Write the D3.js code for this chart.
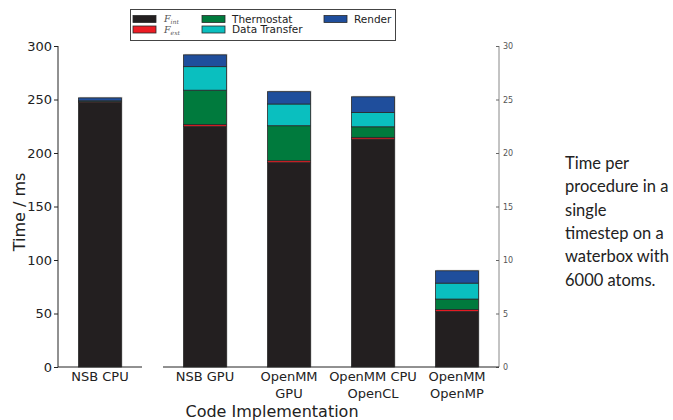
<!DOCTYPE html>
<html>
<head>
<meta charset="utf-8">
<script src="https://cdn.jsdelivr.net/npm/d3@7"></script>
<style>
  body { margin: 0; background: #fff; }
  svg { display: block; }
</style>
</head>
<body>
<div id="chart"></div>
<script>
// stack order, bottom to top
const keys = ["F_int", "F_ext", "Thermostat", "Data Transfer", "Render"];
const colors = ["#231f20", "#ed1c24", "#007a3d", "#0abfbf", "#1f4e9c"];

// left panel (left axis, 0-300)
const cpuNames = ["NSB CPU"];
const cpuFint = [247.5];
const cpuFext = [0.5];
const cpuThermo = [0.3];
const cpuData = [0.5];
const cpuRender = [2.7];

// right panel (right axis, 0-30)
const gpuNames = ["NSB GPU", "OpenMM\nGPU", "OpenMM CPU\nOpenCL", "OpenMM\nOpenMP"];
const gpuFint = [22.5, 19.1, 21.3, 5.2];
const gpuFext = [0.17, 0.18, 0.16, 0.18];
const gpuThermo = [3.2, 3.27, 0.99, 0.97];
const gpuData = [2.2, 2.03, 1.34, 1.49];
const gpuRender = [1.1, 1.15, 1.46, 1.15];

const leftTicks = [0, 50, 100, 150, 200, 250, 300];
const rightTicks = [0, 5, 10, 15, 20, 25, 30];
const note = ["Time per", "procedure in a", "single", "timestep on a", "waterbox with", "6000 atoms."];

const W = 673, H = 420;
const svg = d3.select("#chart").append("svg").attr("width", W).attr("height", H);

const yTop = 46, yBottom = 367;
const yL = d3.scaleLinear().domain([0, 300]).range([yBottom, yTop]);
const yR = d3.scaleLinear().domain([0, 30]).range([yBottom, yTop]);

const xL = d3.scaleBand().domain(cpuNames).range([58, 142]).paddingInner(0.488).paddingOuter(0.244);
const xR = d3.scaleBand().domain(gpuNames).range([163, 499]).paddingInner(0.488).paddingOuter(0.244);

function rows(names, fi, fe, th, da, re) {
    return names.map((n, i) => ({
        name: n, "F_int": fi[i], "F_ext": fe[i], "Thermostat": th[i],
        "Data Transfer": da[i], "Render": re[i]
    }));
}

function drawBars(g, data, x, y) {
    const series = d3.stack().keys(keys)(data);
    // faint shadow behind each bar
    g.selectAll(".shadow")
        .data(data)
        .enter().append("rect")
        .attr("x", d => x(d.name) + 1)
        .attr("y", d => y(d3.sum(keys, k => d[k])) - 1)
        .attr("width", x.bandwidth())
        .attr("height", d => yBottom - y(d3.sum(keys, k => d[k])) + 1)
        .attr("fill", "#c8c8c8");
    series.forEach((s, si) => {
        g.selectAll(".seg" + si)
            .data(s)
            .enter().append("rect")
            .attr("x", d => x(d.data.name))
            .attr("y", d => y(d[1]))
            .attr("width", x.bandwidth())
            .attr("height", d => Math.max(0, y(d[0]) - y(d[1])))
            .attr("fill", colors[si])
            .attr("stroke", "#2a2a2a")
            .attr("stroke-width", 0.8);
    });
}

const gBars = svg.append("g");
drawBars(gBars, rows(cpuNames, cpuFint, cpuFext, cpuThermo, cpuData, cpuRender), xL, yL);
drawBars(gBars, rows(gpuNames, gpuFint, gpuFext, gpuThermo, gpuData, gpuRender), xR, yR);

// left y axis
const axL = svg.append("g")
    .attr("transform", "translate(58,0)")
    .call(d3.axisLeft(yL).tickValues(leftTicks).tickSize(4).tickPadding(2));
axL.select(".domain").attr("stroke", "#222").attr("d", `M0,${yTop}V${yBottom}`);
axL.selectAll(".tick line").attr("stroke", "#222");
axL.selectAll("text").attr("font-family", "DejaVu Sans").attr("font-size", 13).attr("fill", "#222");

// right y axis
const axR = svg.append("g")
    .attr("transform", "translate(499,0)")
    .call(d3.axisRight(yR).tickValues(rightTicks).tickSize(0).tickPadding(4));
axR.select(".domain").attr("stroke", "#888").attr("d", `M0,${yTop}V${yBottom}`);
axR.selectAll(".tick").append("line").attr("x1", -3).attr("x2", 0).attr("stroke", "#666");
axR.selectAll("text").attr("font-family", "DejaVu Sans").attr("font-size", 8).attr("fill", "#555");

// bottom axes (broken)
function bottomAxis(x, x0, x1) {
    const ax = svg.append("g")
        .attr("transform", `translate(0,${yBottom})`)
        .call(d3.axisBottom(x).tickSize(0).tickPadding(5));
    ax.select(".domain").attr("stroke", "#222").attr("d", `M${x0},0H${x1}`);
    ax.selectAll(".tick text").each(function(d) {
        const t = d3.select(this).text(null)
            .attr("font-family", "DejaVu Sans").attr("font-size", 13).attr("fill", "#222");
        d.split("\n").forEach((line, i) => {
            t.append("tspan").attr("x", 0).attr("dy", i === 0 ? "0.71em" : "1.3em").text(line);
        });
    });
}
bottomAxis(xL, 58, 142);
bottomAxis(xR, 163, 499);

// axis titles
svg.append("text")
    .attr("transform", `translate(25,212) rotate(-90)`)
    .attr("text-anchor", "middle")
    .attr("font-family", "DejaVu Sans").attr("font-size", 16).attr("fill", "#222")
    .text("Time / ms");
svg.append("text")
    .attr("x", 272).attr("y", 417)
    .attr("text-anchor", "middle")
    .attr("font-family", "DejaVu Sans").attr("font-size", 16).attr("fill", "#222")
    .text("Code Implementation");

// legend
const leg = svg.append("g");
leg.append("rect").attr("x", 130.5).attr("y", 9.5).attr("width", 265).attr("height", 31)
    .attr("fill", "#fff").attr("stroke", "#444").attr("stroke-width", 1);
const legPos = [[133, 19], [133, 29.5], [202, 19], [202, 29.5], [324, 19]];
keys.forEach((k, i) => {
    const [lx, ly] = legPos[i];
    leg.append("rect").attr("x", lx).attr("y", ly - 3.5).attr("width", 23).attr("height", 7)
        .attr("fill", colors[i]).attr("stroke", "#2a2a2a").attr("stroke-width", 0.8);
    if (k.startsWith("F_")) {
        const t = leg.append("text").attr("x", lx + 31).attr("y", ly + 3)
            .attr("font-family", "DejaVu Serif").attr("font-style", "italic")
            .attr("font-size", 9.5).attr("fill", "#555");
        t.append("tspan").text("F");
        t.append("tspan").attr("font-size", 6).attr("dy", 2).text(k === "F_int" ? "int" : "ext");
    } else {
        leg.append("text").attr("x", lx + 30).attr("y", ly + 3.5)
            .attr("font-family", "DejaVu Sans").attr("font-size", 10.5).attr("fill", "#222")
            .text(k);
    }
});

// side note
svg.append("g").selectAll("text")
    .data(note)
    .enter().append("text")
    .attr("x", 565)
    .attr("y", (d, i) => 169 + i * 23.3)
    .attr("font-family", "Lato").attr("font-size", 16.5).attr("fill", "#222")
    .text(d => d);
</script>
</body>
</html>
